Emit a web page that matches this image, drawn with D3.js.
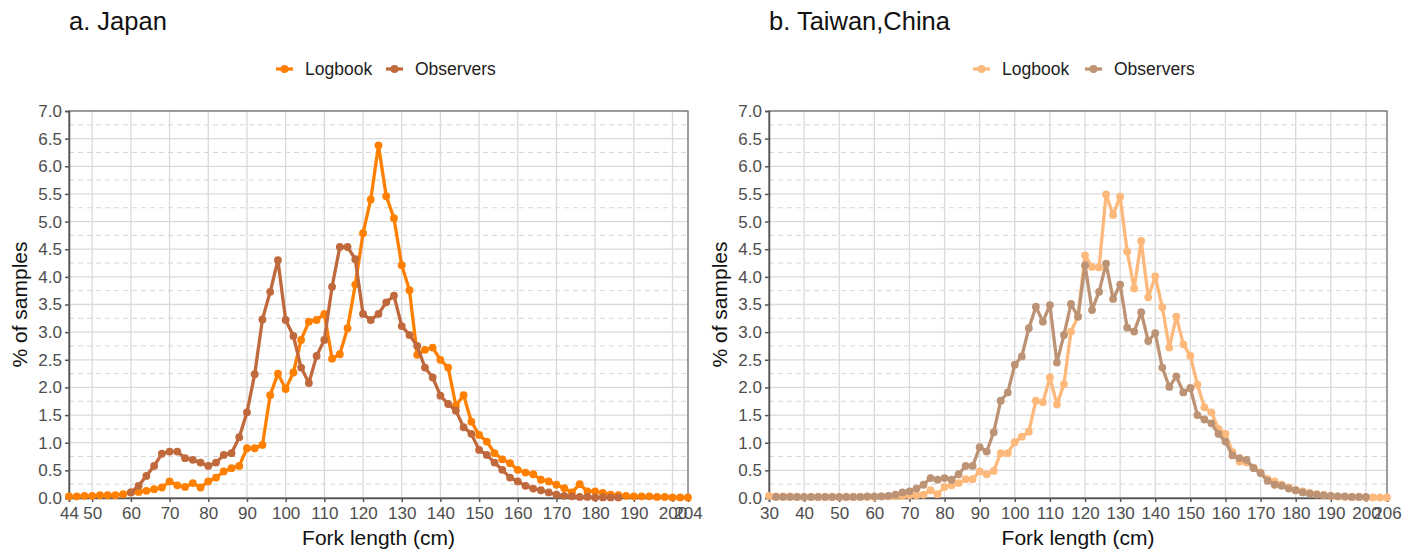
<!DOCTYPE html>
<html>
<head>
<meta charset="utf-8">
<script src="https://cdn.jsdelivr.net/npm/d3@7"></script>
<style>
  html, body { margin: 0; padding: 0; background: #fff; }
  svg { display: block; font-family: "Liberation Sans", Arial, sans-serif; }
</style>
</head>
<body>
<svg id="chart" width="1413" height="549"></svg>
<script>
// Length-frequency of catches (% of samples by 2 cm fork-length bin)
const japanLengths = [44,46,48,50,52,54,56,58,60,62,64,66,68,70,72,74,76,78,80,82,84,86,88,90,92,94,96,98,100,102,104,106,108,110,112,114,116,118,120,122,124,126,128,130,132,134,136,138,140,142,144,146,148,150,152,154,156,158,160,162,164,166,168,170,172,174,176,178,180,182,184,186,188,190,192,194,196,198,200,202,204];
const japanLogbook = [0.03,0.03,0.04,0.04,0.05,0.05,0.05,0.07,
  0.10,0.11,0.13,0.16,0.19,0.30,0.23,0.20,0.27,0.19,
  0.30,0.37,0.48,0.54,0.58,0.90,0.90,0.96,1.86,2.25,
  1.97,2.27,2.86,3.19,3.22,3.33,2.52,2.60,3.07,3.86,
  4.79,5.40,6.38,5.46,5.06,4.21,3.76,2.59,2.68,2.72,
  2.50,2.36,1.67,1.86,1.38,1.14,1.02,0.81,0.70,0.63,
  0.51,0.46,0.43,0.33,0.30,0.24,0.18,0.10,0.25,0.12,
  0.12,0.09,0.06,0.05,0.04,0.03,0.03,0.03,0.02,0.02,
  0.01,0.01,0.01];
const japanObservers = [null,null,null,null,null,null,null,null,
  0.10,0.22,0.40,0.58,0.80,0.84,0.84,0.72,0.69,0.64,
  0.58,0.64,0.78,0.81,1.10,1.55,2.24,3.23,3.73,4.30,
  3.22,2.93,2.36,2.08,2.57,2.86,3.82,4.54,4.54,4.32,
  3.33,3.22,3.33,3.54,3.66,3.11,2.95,2.75,2.36,2.18,
  1.85,1.70,1.58,1.28,1.16,0.87,0.78,0.64,0.51,0.37,
  0.30,0.22,0.17,0.14,0.10,0.06,0.04,0.03,0.02,0.02,
  0.01,0.01,0.01,0.01,null,null,null,null,null,null,
  null,null,null];
const japanTicks = [44,50,60,70,80,90,100,110,120,130,140,150,160,170,180,190,200,204];

const taiwanLengths = [30,32,34,36,38,40,42,44,46,48,50,52,54,56,58,60,62,64,66,68,70,72,74,76,78,80,82,84,86,88,90,92,94,96,98,100,102,104,106,108,110,112,114,116,118,120,122,124,126,128,130,132,134,136,138,140,142,144,146,148,150,152,154,156,158,160,162,164,166,168,170,172,174,176,178,180,182,184,186,188,190,192,194,196,198,200,202,204,206];
const taiwanLogbook = [0.04,0.03,0.03,0.03,0.02,0.02,0.02,0.02,0.02,0.02,
  0.02,0.02,0.02,0.02,0.02,0.02,0.03,0.03,0.03,0.04,
  0.05,0.05,0.06,0.14,0.07,0.20,0.23,0.27,0.34,0.34,
  0.48,0.43,0.49,0.81,0.81,1.01,1.11,1.20,1.76,1.73,
  2.18,1.69,2.06,3.01,3.28,4.39,4.18,4.17,5.49,5.12,
  5.45,4.46,3.79,4.65,3.63,4.01,3.45,2.72,3.28,2.78,
  2.57,2.05,1.64,1.55,1.25,1.16,0.83,0.66,0.64,0.55,
  0.46,0.34,0.30,0.24,0.19,0.14,0.12,0.09,0.07,0.05,
  0.04,0.03,0.02,0.02,0.02,0.01,0.01,0.01,0.01];
const taiwanObservers = [null,0.02,0.02,0.02,0.02,0.02,0.02,0.02,0.02,0.02,
  0.02,0.02,0.02,0.02,0.03,0.03,0.03,0.04,0.06,0.10,
  0.12,0.17,0.24,0.36,0.33,0.36,0.33,0.43,0.58,0.58,
  0.92,0.84,1.19,1.76,1.91,2.41,2.56,3.07,3.46,3.19,
  3.49,2.45,2.95,3.51,3.28,4.21,3.40,3.73,4.24,3.60,
  3.86,3.08,3.01,3.36,2.84,2.98,2.36,2.01,2.20,1.91,
  1.99,1.50,1.42,1.35,1.16,1.02,0.77,0.72,0.69,0.54,
  0.45,0.31,0.24,0.22,0.17,0.14,0.10,0.08,0.06,0.05,
  0.04,0.03,0.03,0.02,0.02,0.02,null,null,null];
const taiwanTicks = [30,40,50,60,70,80,90,100,110,120,130,140,150,160,170,180,190,200,206];

const yTicks = [0,0.5,1,1.5,2,2.5,3,3.5,4,4.5,5,5.5,6,6.5,7];
const yMinor = [0.25,0.75,1.25,1.75,2.25,2.75,3.25,3.75,4.25,4.75,5.25,5.75,6.25,6.75];
const seriesNames = ["Logbook", "Observers"];

const svg = d3.select("#chart");

function drawPanel(cfg) {
  const top = 111, bottom = 498;
  const x = d3.scaleLinear().domain(cfg.domain).range([cfg.left, cfg.right]);
  const y = d3.scaleLinear().domain([0, 7]).range([bottom, top]);
  const g = svg.append("g");

  // grid: dashed minor, solid major
  g.append("g").selectAll("line").data(yMinor).join("line")
    .attr("x1", cfg.left).attr("x2", cfg.right)
    .attr("y1", d => y(d)).attr("y2", d => y(d))
    .attr("stroke", "#d6d6d6").attr("stroke-width", 1).attr("stroke-dasharray", "5,4");
  g.append("g").selectAll("line").data(yTicks).join("line")
    .attr("x1", cfg.left).attr("x2", cfg.right)
    .attr("y1", d => y(d)).attr("y2", d => y(d))
    .attr("stroke", "#dadada").attr("stroke-width", 1.3);
  g.append("g").selectAll("line").data(cfg.ticks).join("line")
    .attr("x1", d => x(d)).attr("x2", d => x(d))
    .attr("y1", top).attr("y2", bottom)
    .attr("stroke", "#dadada").attr("stroke-width", 1.3);

  // panel border
  g.append("rect")
    .attr("x", cfg.left).attr("y", top)
    .attr("width", cfg.right - cfg.left).attr("height", bottom - top)
    .attr("fill", "none").attr("stroke", "#6b6b6b").attr("stroke-width", 1.2);

  // axes
  const xAxis = d3.axisBottom(x).tickValues(cfg.ticks).tickFormat(d3.format("d"))
    .tickSize(4).tickPadding(5);
  const gx = g.append("g").attr("transform", `translate(0,${bottom})`).call(xAxis);
  const yAxis = d3.axisLeft(y).tickValues(yTicks).tickFormat(d3.format(".1f"))
    .tickSize(4).tickPadding(3);
  const gy = g.append("g").attr("transform", `translate(${cfg.left},0)`).call(yAxis);
  [gx, gy].forEach(a => {
    a.select(".domain").attr("stroke", "#555").attr("stroke-width", 1.5);
    a.selectAll(".tick line").attr("stroke", "#555").attr("stroke-width", 1.5);
    a.selectAll(".tick text").attr("fill", "#4d4d4d").style("font-size", "17px")
      .style("font-family", "Liberation Sans, Arial, sans-serif");
  });

  // series
  const line = d3.line()
    .defined(d => d.v != null)
    .x(d => x(d.len)).y(d => y(d.v));
  cfg.series.forEach(s => {
    const pts = cfg.lengths.map((len, i) => ({ len, v: s.values[i] }));
    const sg = g.append("g");
    sg.append("path").datum(pts)
      .attr("d", line).attr("fill", "none")
      .attr("stroke", s.color).attr("stroke-width", 3.3).attr("stroke-linejoin", "round");
    sg.selectAll("circle").data(pts.filter(d => d.v != null)).join("circle")
      .attr("cx", d => x(d.len)).attr("cy", d => y(d.v)).attr("r", 3.9)
      .attr("fill", s.color);
  });

  // title
  svg.append("text").attr("x", cfg.left).attr("y", 30)
    .attr("fill", "#111").style("font-size", "25.5px").text(cfg.title);

  // axis titles
  svg.append("text").attr("x", (cfg.left + cfg.right) / 2).attr("y", 545)
    .attr("text-anchor", "middle").attr("fill", "#111").style("font-size", "21px")
    .text("Fork length (cm)");
  svg.append("text")
    .attr("transform", `translate(${cfg.left - 42},${(top + bottom) / 2}) rotate(-90)`)
    .attr("text-anchor", "middle").attr("fill", "#111").style("font-size", "21px")
    .text("% of samples");

  // legend
  const lg = svg.append("g");
  cfg.series.forEach((s, i) => {
    const lx = cfg.legendX[i];
    lg.append("line").attr("x1", lx).attr("x2", lx + 17).attr("y1", 69).attr("y2", 69)
      .attr("stroke", s.color).attr("stroke-width", 3.3);
    lg.append("circle").attr("cx", lx + 8.5).attr("cy", 69).attr("r", 4).attr("fill", s.color);
    lg.append("text").attr("x", lx + 29).attr("y", 75)
      .attr("fill", "#222").style("font-size", "17.5px").text(seriesNames[i]);
  });
}

drawPanel({
  title: "a. Japan",
  domain: [44, 204], left: 69, right: 688,
  ticks: japanTicks, lengths: japanLengths,
  legendX: [276, 386],
  series: [
    { values: japanLogbook, color: "#ff8000" },
    { values: japanObservers, color: "#c0693d" }
  ]
});

drawPanel({
  title: "b. Taiwan,China",
  domain: [30, 206], left: 769, right: 1387,
  ticks: taiwanTicks, lengths: taiwanLengths,
  legendX: [973, 1085],
  series: [
    { values: taiwanLogbook, color: "#fdb97b" },
    { values: taiwanObservers, color: "#bd9375" }
  ]
});
</script>
</body>
</html>
